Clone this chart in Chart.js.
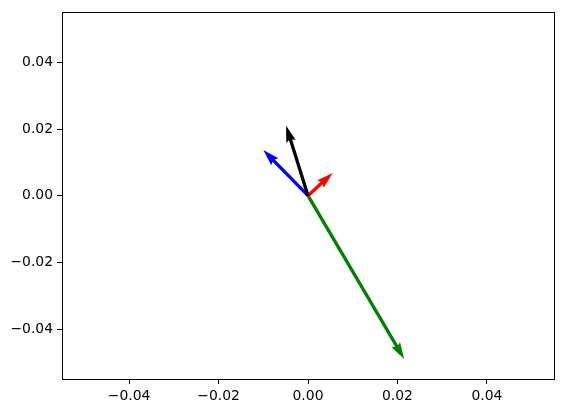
<!DOCTYPE html>
<html>
<head>
<meta charset="utf-8">
<script src="https://cdn.jsdelivr.net/npm/chart.js@4/dist/chart.umd.min.js"></script>
<style>
body{margin:0;background:#fff}
#wrap{width:567px;height:413px}
</style>
</head>
<body>
<div id="wrap"><canvas id="c" width="567" height="413"></canvas></div>
<script>
// vector components, all starting at the origin
const names=["green","blue","red","black"]
const u=[0.0215,-0.0100,0.0055,-0.0049]
const v=[-0.0490,0.0137,0.0068,0.0210]
const tickValues=[-0.04,-0.02,0,0.02,0.04]
const tickLabels=["\u22120.04","\u22120.02","0.00","0.02","0.04"]
const axisMin=-0.055
const axisMax=0.055

const colors={green:"green",blue:"blue",red:"red",black:"black"}

// quiver arrows, matplotlib shape: shaft w, head 3w wide, 5w long, axis 4.5w
const quiver={
id:"quiver",
afterDatasetsDraw(chart){
const ctx=chart.ctx
const xs=chart.scales.x, ys=chart.scales.y
const w=3.3
ctx.save()
chart.data.datasets.forEach(ds=>{
const p0=ds.data[0], p1=ds.data[1]
const x0=xs.getPixelForValue(p0.x), y0=ys.getPixelForValue(p0.y)
const x1=xs.getPixelForValue(p1.x), y1=ys.getPixelForValue(p1.y)
const L=Math.hypot(x1-x0,y1-y0)
const a=Math.atan2(y1-y0,x1-x0)
const pts=[[0,-w/2],[L-4.5*w,-w/2],[L-5*w,-1.5*w],[L,0],[L-5*w,1.5*w],[L-4.5*w,w/2],[0,w/2]]
ctx.beginPath()
pts.forEach((p,i)=>{
const px=x0+p[0]*Math.cos(a)-p[1]*Math.sin(a)
const py=y0+p[0]*Math.sin(a)+p[1]*Math.cos(a)
if(i===0)ctx.moveTo(px,py);else ctx.lineTo(px,py)
})
ctx.closePath()
ctx.fillStyle=ds.borderColor
ctx.fill()
})
ctx.restore()
}
}

const frame={
id:"frame",
afterDraw(chart){
const a=chart.chartArea, ctx=chart.ctx
ctx.save()
ctx.strokeStyle="black"
ctx.lineWidth=1
ctx.strokeRect(Math.round(a.left)+0.5,Math.round(a.top)+0.5,Math.round(a.right-a.left),Math.round(a.bottom-a.top))
ctx.restore()
}
}

const datasets=names.map((n,i)=>({
label:n,
data:[{x:0,y:0},{x:u[i],y:v[i]}],
borderColor:colors[n],
backgroundColor:colors[n],
pointRadius:0,
showLine:false
}))

const tickFont={family:"DejaVu Sans",size:13.9}

function axis(pos,size){
return {
type:"linear",
position:pos,
min:axisMin,
max:axisMax,
afterBuildTicks(s){s.ticks=tickValues.map(t=>({value:t}))},
afterFit(s){if(pos==="left")s.width=size;else s.height=size},
grid:{drawOnChartArea:false,drawTicks:true,tickLength:5,tickColor:"black",tickWidth:1},
border:{display:false},
ticks:{
color:"black",
font:tickFont,
padding:4,
maxRotation:0,
autoSkip:false,
callback:(val)=>{let i=tickValues.findIndex(t=>Math.abs(t-val)<1e-9);return i<0?"":tickLabels[i]}
}
}
}

new Chart(document.getElementById("c"),{
type:"scatter",
data:{datasets:datasets},
options:{
responsive:false,
animation:false,
layout:{padding:{left:0,top:10,right:13,bottom:0}},
plugins:{legend:{display:false},tooltip:{enabled:false}},
scales:{
x:axis("bottom",34),
y:axis("left",62)
}
},
plugins:[quiver,frame]
})
</script>
</body>
</html>
